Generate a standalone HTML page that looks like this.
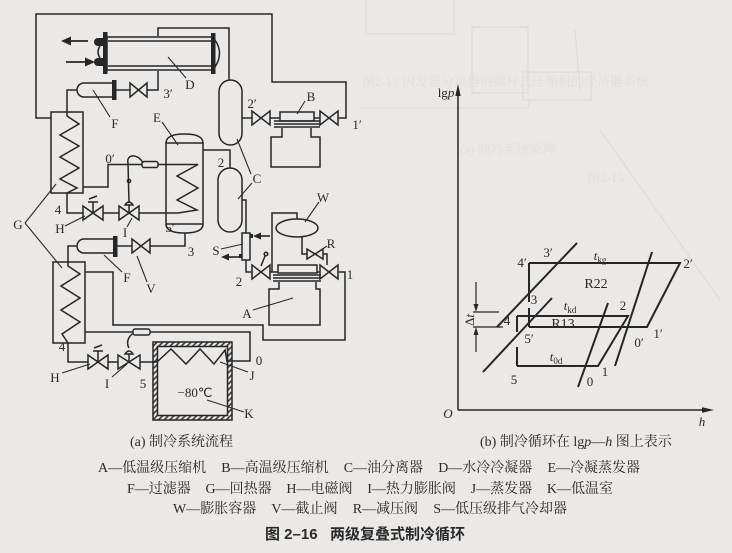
<!DOCTYPE html>
<html><head><meta charset="utf-8"><style>
html,body{margin:0;padding:0;}
body{width:732px;height:553px;background:#ebe9e7;position:relative;overflow:hidden;font-family:"Liberation Serif","Noto Serif CJK SC",serif;color:#2a2a2a;}
svg{position:absolute;left:0;top:0;}
.cap{position:absolute;font-size:14px;line-height:20px;white-space:nowrap;}
.row{position:absolute;display:flex;justify-content:space-between;font-size:14px;line-height:20px;white-space:nowrap;}
.title{position:absolute;left:265px;top:524px;font-family:"Liberation Sans","Noto Sans CJK SC",sans-serif;font-size:15px;font-weight:bold;line-height:22px;white-space:nowrap;color:#2a2a2a;}
</style></head><body>
<svg width="732" height="553" viewBox="0 0 732 553">
<defs>
<pattern id="hh" width="4" height="4" patternUnits="userSpaceOnUse" patternTransform="rotate(45)"><line x1="1" y1="0" x2="1" y2="4" stroke="#2b2b2b" stroke-width="1.5"/></pattern>
</defs>
<!-- faint bleed-through -->
<g fill="none" stroke="#dedbd8" stroke-width="1.2">
<rect x="366" y="-2" width="88" height="36"/>
<rect x="472" y="27" width="56" height="66"/>
<rect x="523" y="72" width="68" height="28"/>
<polyline points="360,108 528,108 530,100"/>
<line x1="575" y1="30" x2="580" y2="90"/>
<line x1="600" y1="130" x2="720" y2="300"/>
</g>
<g fill="#e1dedb" font-family="Liberation Serif,Noto Serif CJK SC,serif" font-size="13">
<text x="362" y="86">图2-15 闪发器分离器的螺杆式压缩机的经济器系统</text>
<text x="460" y="154">(a) 制冷系统原理</text>
<text x="587" y="182">图2-15</text>
</g>

<g fill="none" stroke="#262626" stroke-width="1.5">
<!-- outer top loop -->
<polyline points="51,118 36,118 36,14 272,14 272,82 346,82 346,118 338,118"/>
<!-- condenser D -->
<rect x="107" y="37" width="105" height="33"/>
<line x1="108" y1="41" x2="211" y2="41"/>
<line x1="108" y1="66" x2="211" y2="66"/>
<path d="M215,40 Q224,53 215,67"/>
<path d="M100,46 Q96,52 100,58"/>
<!-- arrows -->
<line x1="68" y1="41" x2="88" y2="41" stroke-width="1.8"/>
<line x1="66" y1="62" x2="88" y2="62" stroke-width="1.8"/>
<!-- D pipes -->
<polyline points="158,36 158,28 229,28 229,80"/>
<polyline points="158,71 158,90 147,90"/>
<polygon points="130,83 147,97 147,83 130,97"/>
<line x1="116" y1="90" x2="130" y2="90"/>
<path d="M112,83 H84 A7,7 0 0 0 84,97 H112"/>
<polyline points="77,90 67,90 67,112"/>
<!-- G upper -->
<rect x="51" y="112" width="32" height="81"/>
<polyline points="67,112 67,116 79,124 60,135 79,146 60,157 79,168 60,179 77,188 67,193"/>
<!-- C upper -->
<rect x="219" y="80" width="23" height="65" rx="11.5"/>
<line x1="242" y1="118" x2="252" y2="118"/>
<polygon points="252,111 270,125 270,111 252,125"/>
<line x1="270" y1="118" x2="280" y2="118"/>
<!-- B compressor -->
<rect x="280" y="112" width="34" height="9"/>
<line x1="274" y1="121" x2="320" y2="121" stroke-width="1.5"/>
<line x1="274" y1="124" x2="320" y2="124" stroke-width="1.5"/>
<line x1="274" y1="127" x2="320" y2="127" stroke-width="1.5"/>
<path d="M282,128 V137 H271 V167 H320 V137 H311 V128"/>
<line x1="314" y1="118" x2="320" y2="118"/>
<polygon points="320,111 338,125 338,111 320,125"/>
<!-- E -->
<rect x="166" y="143" width="37" height="81"/>
<path d="M166,143 Q166,134 184.5,134 Q203,134 203,143"/>
<path d="M166,224 Q166,233 184.5,233 Q203,233 203,224"/>
<polyline points="158,164.5 198,164.5 177,176 198,188 177,200 197,210 178,213"/>
<rect x="142" y="161.5" width="16" height="6" rx="2"/>
<polyline points="142,164.5 108,164.5 108,187 83,187"/>
<path d="M143,163 C138,153 126,154 128,163 L129,203"/>
<circle cx="129" cy="181" r="1.6"/>
<!-- valves H,I upper -->
<polygon points="83,206 103,220 103,206 83,220"/>
<line x1="93" y1="213" x2="93" y2="202"/>
<line x1="88" y1="202" x2="98" y2="202"/>
<line x1="89" y1="199" x2="97" y2="196"/>
<polygon points="119,206 139,220 139,206 119,220"/>
<line x1="129" y1="213" x2="129" y2="205"/>
<path d="M125,205 Q129,199 133,205 Z"/>
<polyline points="67,193 67,213 83,213"/>
<line x1="103" y1="213" x2="119" y2="213"/>
<line x1="139" y1="213" x2="178" y2="213"/>
<!-- lower stage liquid line -->
<polyline points="185,233 185,246 150,246"/>
<polygon points="132,239 150,253 150,239 132,253"/>
<line x1="117" y1="246" x2="132" y2="246"/>
<path d="M113,239 H84 A7,7 0 0 0 84,253 H113"/>
<polyline points="77,246 68,246 68,262"/>
<!-- G lower -->
<rect x="53" y="262" width="32" height="81"/>
<polyline points="68,262 68,266 80,274 61,286 80,298 61,310 80,322 62,334 68,343"/>
<polyline points="85,272 113,272 113,325 263,325 263,340 345,340 345,272 338,272"/>
<!-- C lower, S -->
<rect x="218" y="168" width="24" height="64" rx="12"/>
<polyline points="203,150 230,150 230,168"/>
<polyline points="242,200 246,200 246,233"/>
<rect x="242" y="233" width="8" height="27"/>
<polyline points="246,260 246,272 252,272"/>
<line x1="258" y1="236" x2="270" y2="236" stroke-width="1.6"/>
<line x1="227" y1="257" x2="240" y2="257" stroke-width="1.6"/>
<!-- A compressor -->
<polygon points="252,265 270,279 270,265 252,279"/>
<line x1="270" y1="272" x2="278" y2="272"/>
<rect x="278" y="265" width="39" height="8"/>
<line x1="273" y1="275" x2="321" y2="275" stroke-width="1.5"/>
<line x1="273" y1="278" x2="321" y2="278" stroke-width="1.5"/>
<line x1="273" y1="281" x2="321" y2="281" stroke-width="1.5"/>
<path d="M279,282 V289 H269 V325 H320 V289 H316 V282"/>
<line x1="317" y1="272" x2="320" y2="272"/>
<polygon points="320,265 338,279 338,265 320,279"/>
<!-- W, R -->
<ellipse cx="297" cy="228" rx="21" ry="9"/>
<polyline points="297,219 297,213 272,213 272,272"/>
<line x1="261" y1="266" x2="265" y2="256"/>
<circle cx="266" cy="254" r="1.8"/>
<polyline points="302,237 302,254 307,254"/>
<polygon points="307,249 323,259 323,249 307,259"/>
<polyline points="323,254 327,254 327,265"/>
<!-- lower loop to J -->
<polyline points="68,343 68,362 88,362"/>
<polygon points="88,355 108,369 108,355 88,369"/>
<line x1="98" y1="362" x2="98" y2="351"/>
<line x1="93" y1="351" x2="103" y2="351"/>
<line x1="94" y1="348" x2="102" y2="345"/>
<line x1="108" y1="362" x2="118" y2="362"/>
<polygon points="118,355 140,369 140,355 118,369"/>
<line x1="129" y1="362" x2="129" y2="354"/>
<path d="M125,354 Q129,348 133,354 Z"/>
<line x1="140" y1="362" x2="157" y2="362"/>
<polyline points="226,361 250,361 250,332 85,332"/>
<path d="M134,333 C128,336 126,343 129,348"/>
<!-- K box -->
<path d="M153,342 H232 V420 H153 Z M157.5,346.5 V415.5 H227.5 V346.5 Z" fill="url(#hh)" fill-rule="evenodd"/>
<polyline points="157,362 171,349 186,364 200,349 214,364 225,350 227,361"/>
</g>
<rect x="133" y="329" width="17" height="6" rx="2" fill="#ebe9e7" stroke="#262626" stroke-width="1.4"/>
<!-- filled parts -->
<g fill="#262626" stroke="none">
<rect x="103" y="32" width="4.5" height="42"/>
<rect x="211" y="33" width="4.5" height="41"/>
<path d="M103,38 H98 A4,4 0 0 0 98,46 H103 Z"/>
<path d="M103,58 H98 A4,4 0 0 0 98,66 H103 Z"/>
<polygon points="61,41 71,36.5 71,45.5"/>
<polygon points="95,62 85,57.5 85,66.5"/>
<rect x="112" y="80" width="4.5" height="20"/>
<rect x="113" y="236" width="4.5" height="21"/>
<rect x="250" y="234" width="3" height="4"/>
<rect x="239" y="254" width="3" height="4"/>
<polygon points="253,236 261,232.5 261,239.5"/>
<polygon points="221,257 229,253.5 229,260.5"/>
</g>
<!-- leaders -->
<g stroke="#2b2b2b" stroke-width="1.1" fill="none">
<line x1="186" y1="78" x2="168" y2="57"/>
<line x1="110" y1="117" x2="93" y2="90"/>
<line x1="305" y1="101" x2="297" y2="114"/>
<line x1="162" y1="122" x2="178" y2="145"/>
<line x1="251" y1="174" x2="237" y2="139"/>
<line x1="252" y1="183" x2="238" y2="199"/>
<line x1="25" y1="223" x2="56" y2="184"/>
<line x1="25" y1="223" x2="62" y2="268"/>
<line x1="65" y1="226" x2="85" y2="216"/>
<line x1="127" y1="227" x2="132" y2="218"/>
<line x1="221" y1="249" x2="243" y2="244"/>
<line x1="327" y1="246" x2="318" y2="252"/>
<line x1="319" y1="202" x2="305" y2="222"/>
<line x1="122" y1="272" x2="104" y2="255"/>
<line x1="147" y1="282" x2="137" y2="256"/>
<line x1="253" y1="310" x2="293" y2="298"/>
<line x1="62" y1="373" x2="90" y2="364"/>
<line x1="112" y1="377" x2="127" y2="364"/>
<line x1="248" y1="372" x2="220" y2="362"/>
<line x1="244" y1="412" x2="207" y2="400"/>
</g>
<!-- diagram labels -->
<g font-family="Liberation Serif, serif" font-size="13" fill="#2a2a2a" text-anchor="middle">
<text x="190" y="89">D</text>
<text x="168" y="98">3′</text>
<text x="115" y="128">F</text>
<text x="252" y="108">2′</text>
<text x="311" y="101">B</text>
<text x="357" y="129">1′</text>
<text x="157" y="122">E</text>
<text x="110" y="163">0′</text>
<text x="221" y="167">2</text>
<text x="257" y="183">C</text>
<text x="58" y="214">4</text>
<text x="18" y="229">G</text>
<text x="60" y="233">H</text>
<text x="125" y="237">I</text>
<text x="170" y="232">5′</text>
<text x="191" y="256">3</text>
<text x="216" y="255">S</text>
<text x="127" y="282">F</text>
<text x="151" y="293">V</text>
<text x="239" y="286">2</text>
<text x="331" y="248">R</text>
<text x="323" y="202">W</text>
<text x="350" y="279">1</text>
<text x="247" y="318">A</text>
<text x="62" y="351">4</text>
<text x="55" y="382">H</text>
<text x="107" y="388">I</text>
<text x="143" y="388">5</text>
<text x="259" y="365">0</text>
<text x="252" y="380">J</text>
<text x="195" y="397">−80℃</text>
<text x="249" y="418">K</text>
</g>
<!-- graph -->
<g stroke="#262626" fill="none">
<line x1="458" y1="410" x2="458" y2="94" stroke-width="1.5"/>
<line x1="458" y1="410" x2="706" y2="410" stroke-width="1.5"/>
<g stroke-width="2">
<polyline points="529,263 680,263 647,327 529,327"/>
<line x1="529" y1="263" x2="529" y2="302"/>
<line x1="529" y1="308" x2="529" y2="327"/>
<polyline points="517,316 628,316 598,366 517,366"/>
<line x1="517" y1="316" x2="517" y2="332"/>
<line x1="517" y1="347" x2="517" y2="366"/>
<line x1="497" y1="327" x2="577" y2="243"/>
<line x1="483" y1="372" x2="552" y2="298"/>
<line x1="578" y1="387" x2="608" y2="303"/>
<line x1="615" y1="366" x2="652" y2="252"/>
</g>
<line x1="473" y1="312" x2="499" y2="312" stroke-width="1.3"/>
<line x1="473" y1="327" x2="503" y2="327" stroke-width="1.3"/>
<line x1="476" y1="282" x2="476" y2="306" stroke-width="1.2"/>
<line x1="476" y1="352" x2="476" y2="333" stroke-width="1.2"/>
</g>
<g fill="#262626">
<polygon points="458,84 455.3,96 460.7,96"/>
<polygon points="714,410 702,407.3 702,412.7"/>
<polygon points="476,312 473.5,304 478.5,304"/>
<polygon points="476,327 473.5,335 478.5,335"/>
</g>
<g font-family="Liberation Serif, serif" font-size="13" fill="#2a2a2a" text-anchor="middle">
<text x="446" y="97">lg<tspan font-style="italic">p</tspan></text>
<text x="448" y="418" font-style="italic">O</text>
<text x="702" y="426" font-style="italic">h</text>
<text x="548" y="257">3′</text>
<text x="600" y="260"><tspan font-style="italic">t</tspan><tspan font-size="9" dy="3">kg</tspan></text>
<text x="522" y="267">4′</text>
<text x="688" y="268">2′</text>
<text x="596" y="288" font-size="14">R22</text>
<text x="534" y="304">3</text>
<text x="570" y="310"><tspan font-style="italic">t</tspan><tspan font-size="9" dy="3">kd</tspan></text>
<text x="623" y="310">2</text>
<text x="507" y="325">4</text>
<text x="563" y="328" font-size="14">R13</text>
<text x="658" y="338">1′</text>
<text x="529" y="343">5′</text>
<text x="639" y="347">0′</text>
<text x="556" y="361"><tspan font-style="italic">t</tspan><tspan font-size="9" dy="3">0d</tspan></text>
<text x="514" y="384">5</text>
<text x="590" y="386">0</text>
<text x="605" y="376">1</text>
<text x="0" y="0" transform="translate(474,320) rotate(-90)">Δ<tspan font-style="italic">t</tspan></text>
</g>
</svg>

<div class="cap" style="left:130px;top:433px;">(a) 制冷系统流程</div>
<div class="cap" style="left:480px;top:433px;">(b) 制冷循环在 lg<i>p</i>—<i>h</i> 图上表示</div>
<div class="row" style="left:98px;width:542px;top:459px;"><span>A—低温级压缩机</span><span>B—高温级压缩机</span><span>C—油分离器</span><span>D—水冷冷凝器</span><span>E—冷凝蒸发器</span></div>
<div class="row" style="left:127px;width:486px;top:480px;"><span>F—过滤器</span><span>G—回热器</span><span>H—电磁阀</span><span>I—热力膨胀阀</span><span>J—蒸发器</span><span>K—低温室</span></div>
<div class="row" style="left:173px;width:394px;top:500px;"><span>W—膨胀容器</span><span>V—截止阀</span><span>R—减压阀</span><span>S—低压级排气冷却器</span></div>
<div class="title">图 2–16&nbsp;&nbsp;&nbsp;两级复叠式制冷循环</div>
</body></html>
